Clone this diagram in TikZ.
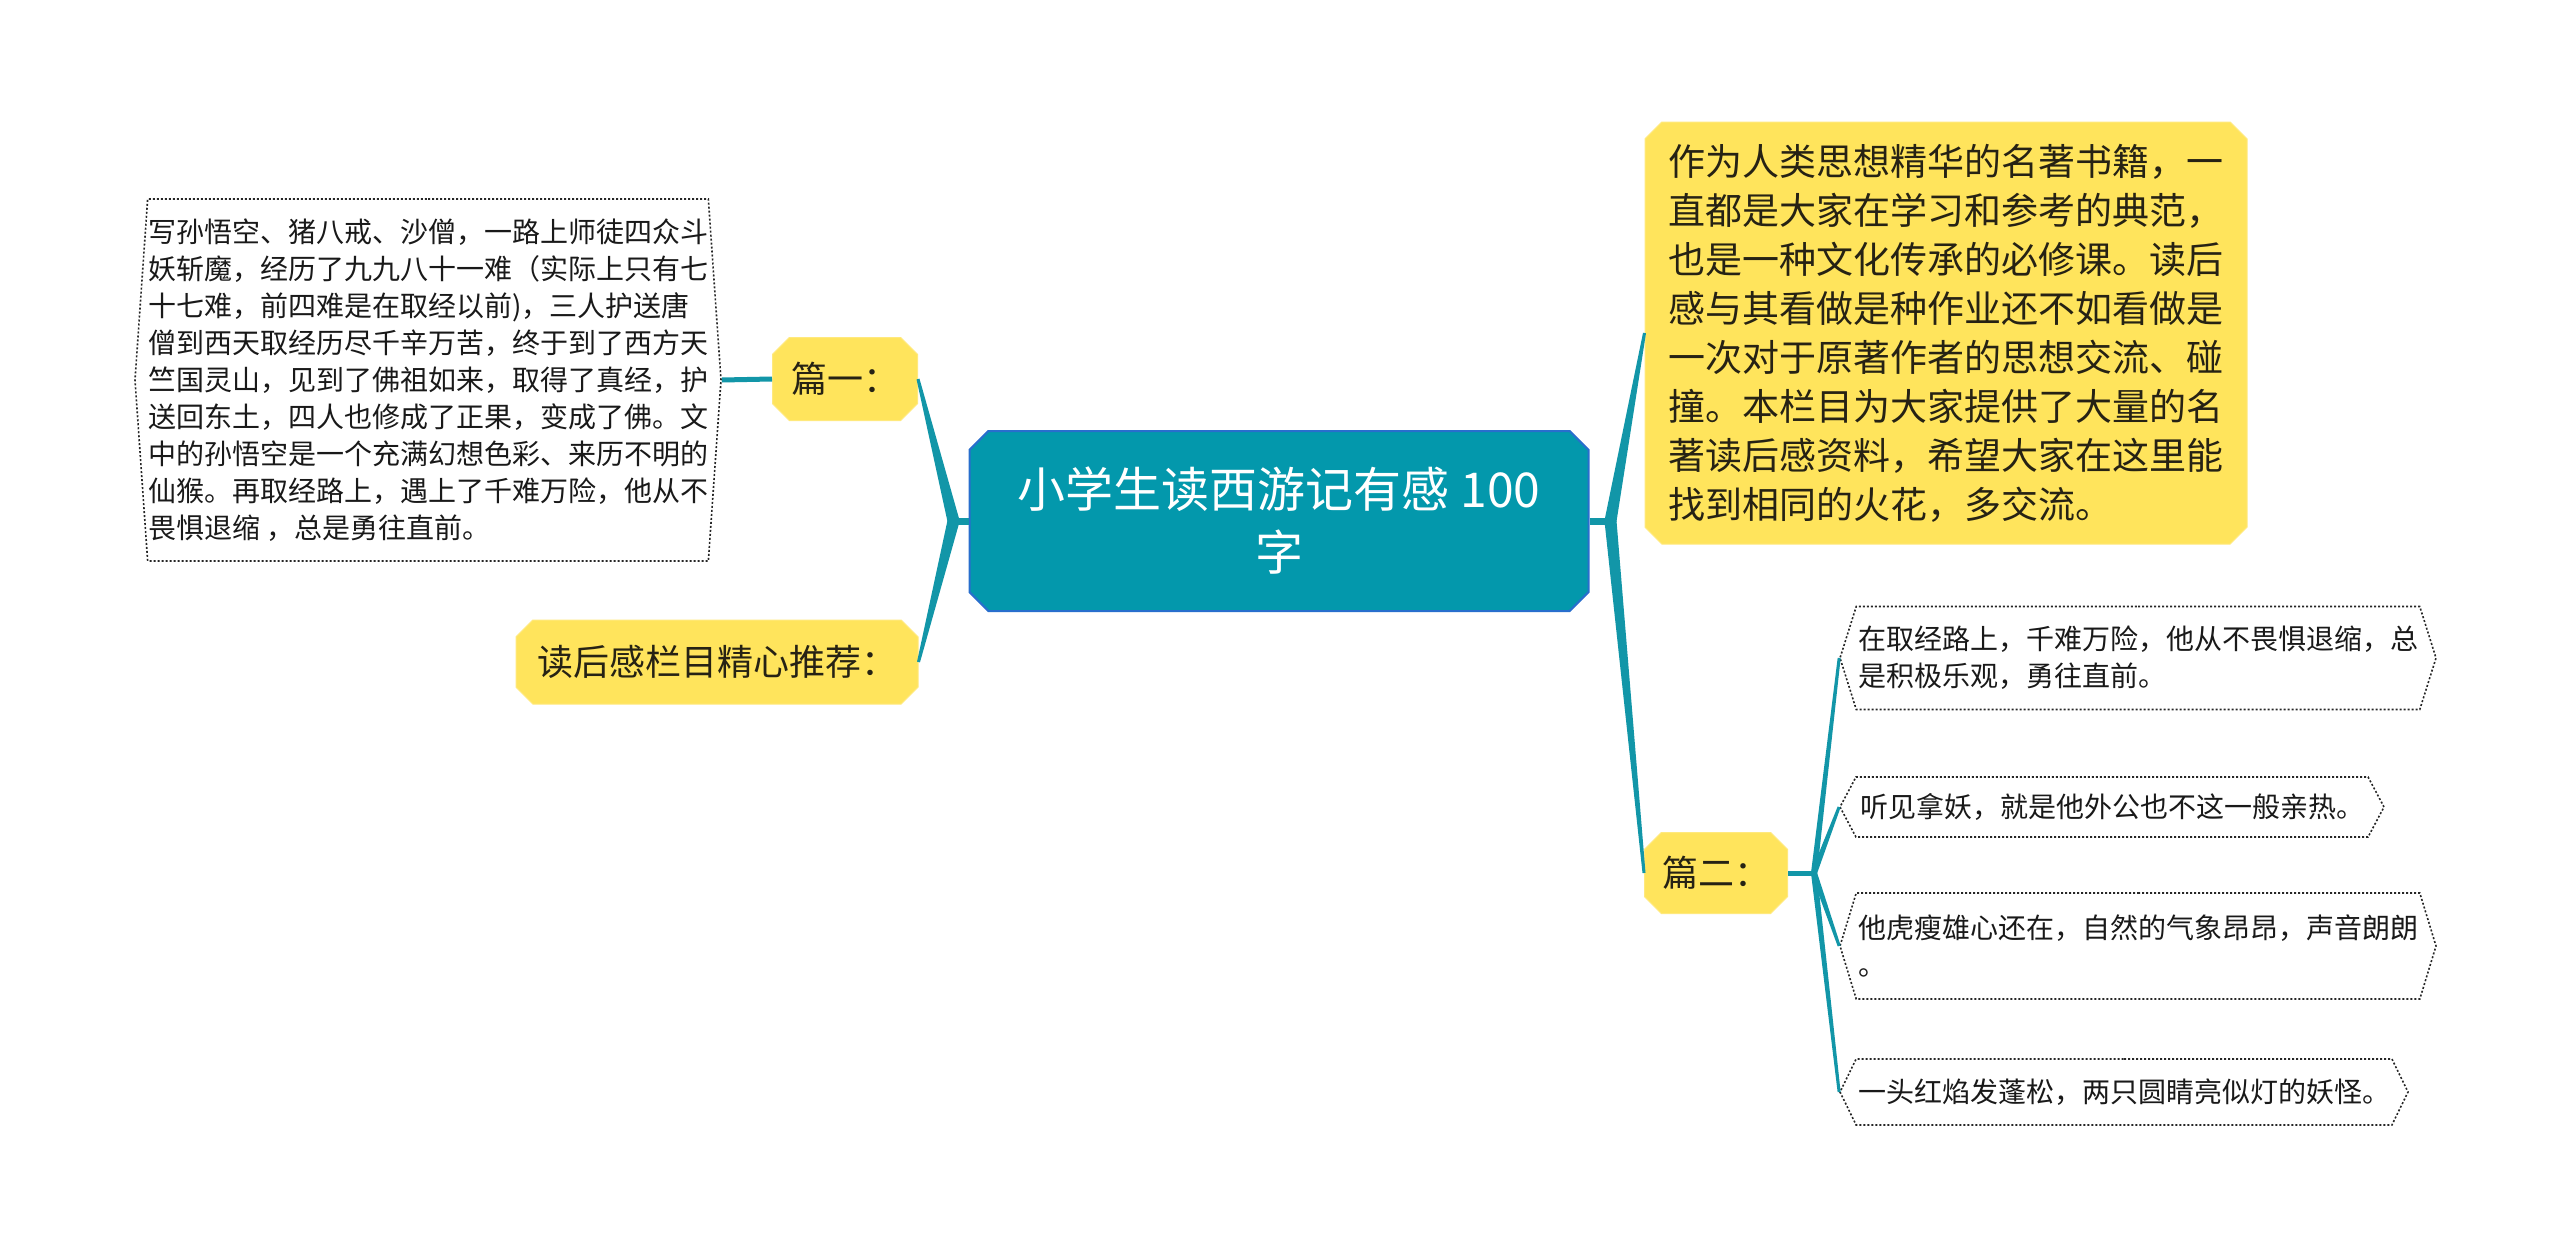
\documentclass[tikz,border=0pt]{standalone}
\usepackage{fontspec}
\newfontfamily\cjk{Noto Sans CJK SC}
\usepackage{tikz}
\usetikzlibrary{shapes.misc,shapes.symbols,calc}

\definecolor{rootfill}{RGB}{3,152,172}
\definecolor{rootline}{RGB}{40,110,205}
\definecolor{branchcol}{RGB}{18,150,168}
\definecolor{leafyellow}{RGB}{255,228,92}
\definecolor{inkcol}{RGB}{38,34,20}

\tikzset{
  root/.style={chamfered rectangle, chamfered rectangle xsep=16pt,
    fill=rootfill, draw=rootline, line width=2pt, text=white,
    align=center, inner sep=0pt, font=\cjk\fontsize{48}{63}\selectfont},
  leaf/.style={chamfered rectangle, chamfered rectangle xsep=14pt,
    fill=leafyellow, draw=leafyellow!80!white, line width=1pt, text=inkcol,
    align=left, inner sep=0pt, font=\cjk\fontsize{36}{49}\selectfont},
  note/.style={signal, signal to=west and east, draw=black!85,
    line width=1.6pt, dash pattern=on 2pt off 2pt, text=black!90,
    align=left, inner sep=0pt, font=\cjk\fontsize{28}{37}\selectfont},
  stem/.style={draw=branchcol, line width=7pt},
  branch/.style={fill=branchcol}
}

\begin{document}
\begin{tikzpicture}[x=1pt,y=-1pt]
\useasboundingbox (0,0) rectangle (2560,1247);

% centre
\node[root, minimum width=619pt, minimum height=180pt] (root) at (1279,521)
  {小学生读西游记有感 100\\字};

% left side
\node[leaf, minimum width=145pt, minimum height=83pt] (pian1) at (845,379) {篇一：};
\node[leaf, minimum width=402pt, minimum height=84pt] (tuijian) at (717,662) {读后感栏目精心推荐：};
\node[note, minimum width=586pt, minimum height=362pt, signal pointer angle=172] (story) at (428,380)
  {写孙悟空、猪八戒、沙僧，一路上师徒四众斗\\
   妖斩魔，经历了九九八十一难（实际上只有七\\
   十七难，前四难是在取经以前)，三人护送唐\\
   僧到西天取经历尽千辛万苦，终于到了西方天\\
   竺国灵山，见到了佛祖如来，取得了真经，护\\
   送回东土，四人也修成了正果，变成了佛。文\\
   中的孙悟空是一个充满幻想色彩、来历不明的\\
   仙猴。再取经路上，遇上了千难万险，他从不\\
   畏惧退缩 ，总是勇往直前。};

% right side
\node[leaf, minimum width=602pt, minimum height=422pt, font=\cjk\fontsize{37}{49}\selectfont] (intro) at (1946,333)
  {作为人类思想精华的名著书籍，一\\
   直都是大家在学习和参考的典范，\\
   也是一种文化传承的必修课。读后\\
   感与其看做是种作业还不如看做是\\
   一次对于原著作者的思想交流、碰\\
   撞。本栏目为大家提供了大量的名\\
   著读后感资料，希望大家在这里能\\
   找到相同的火花，多交流。};
\node[leaf, minimum width=143pt, minimum height=81pt] (pian2) at (1716,873) {篇二：};

\node[note, minimum width=596pt, minimum height=103pt, signal pointer angle=145] (r1) at (2138,658)
  {在取经路上，千难万险，他从不畏惧退缩，总\\是积极乐观，勇往直前。};
\node[note, minimum width=544pt, minimum height=60pt, signal pointer angle=124] (r2) at (2112,807)
  {听见拿妖，就是他外公也不这一般亲热。};
\node[note, minimum width=596pt, minimum height=106pt, signal pointer angle=146] (r3) at (2138,946)
  {他虎瘦雄心还在，自然的气象昂昂，声音朗朗\\。};
\node[note, minimum width=568pt, minimum height=66pt, signal pointer angle=128] (r4) at (2124,1092)
  {一头红焰发蓬松，两只圆睛亮似灯的妖怪。};

% connectors
\coordinate (jl) at ($(root.west)+(-15,0)$);
\coordinate (jr) at ($(root.east)+(21,0)$);
\coordinate (j2) at ($(pian2.east)+(26,0)$);

\draw[stem] (root.west) -- (jl);
\draw[stem] (root.east) -- (jr);
\draw[stem, line width=5pt] (pian2.east) -- (j2);
\draw[stem, line width=5pt] (story.east) -- (pian1.west);

\foreach \t in {pian1.east,tuijian.east}
  \fill[branch] ($(jl)!6pt!90:(\t)$) -- ($(\t)!1.5pt!-90:(jl)$) -- ($(\t)!1.5pt!90:(jl)$) -- ($(jl)!6pt!-90:(\t)$) -- cycle;
\foreach \t in {intro.west,pian2.west}
  \fill[branch] ($(jr)!6pt!90:(\t)$) -- ($(\t)!1.5pt!-90:(jr)$) -- ($(\t)!1.5pt!90:(jr)$) -- ($(jr)!6pt!-90:(\t)$) -- cycle;
\foreach \t in {r1.west,r2.west,r3.west,r4.west}
  \fill[branch] ($(j2)!3pt!90:(\t)$) -- ($(\t)!1.5pt!-90:(j2)$) -- ($(\t)!1.5pt!90:(j2)$) -- ($(j2)!3pt!-90:(\t)$) -- cycle;
\end{tikzpicture}
\end{document}
